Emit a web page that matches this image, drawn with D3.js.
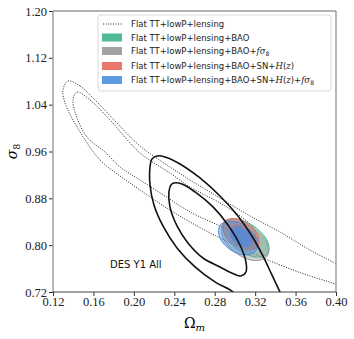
<!DOCTYPE html>
<html>
<head>
<meta charset="utf-8">
<script src="https://cdn.jsdelivr.net/npm/d3@7.9.0/dist/d3.min.js"></script>
<style>
  body { margin: 0; background: #fff; }
  svg { display: block; }
</style>
</head>
<body>
<svg id="chart"></svg>
<script>
// tick values
const xTicks = [0.12, 0.16, 0.20, 0.24, 0.28, 0.32, 0.36, 0.40];
const yTicks = [0.72, 0.80, 0.88, 0.96, 1.04, 1.12, 1.20];

// Planck TT+lowP+lensing (dotted), points [Om, s8]
const planckOuter = [
    [0.1349, 1.0805], [0.1467, 1.0719], [0.1616, 1.0480], [0.1833, 1.0087], [0.2061, 0.9694],
    [0.2357, 0.9336], [0.2555, 0.9114], [0.2852, 0.8806], [0.3149, 0.8499], [0.3445, 0.8225],
    [0.3742, 0.7918], [0.3989, 0.7696], [0.4335, 0.7406], [0.4335, 0.7064], [0.3989, 0.7337],
    [0.3742, 0.7474], [0.3445, 0.7662], [0.3149, 0.7884], [0.2852, 0.8123], [0.2555, 0.8396],
    [0.2308, 0.8653], [0.2061, 0.8943], [0.1863, 0.9182], [0.1665, 0.9455], [0.1438, 1.0019],
    [0.1319, 1.0429], [0.1299, 1.0651]
];
const planckInner = [
    [0.1438, 1.0617], [0.1566, 1.0480], [0.1764, 1.0138], [0.2061, 0.9575], [0.2357, 0.9233],
    [0.2555, 0.8994], [0.2852, 0.8721], [0.3050, 0.8500], [0.3180, 0.8300], [0.3200, 0.8180],
    [0.3110, 0.8140], [0.2950, 0.8250], [0.2852, 0.8328], [0.2555, 0.8567],
    [0.2308, 0.8840], [0.2061, 0.9114], [0.1863, 0.9336], [0.1714, 0.9592], [0.1536, 0.9848],
    [0.1428, 1.0224], [0.1398, 1.0480]
];

// DES Y1 All (solid black)
const desOuter = [
    [0.2229, 0.9524], [0.2308, 0.9507], [0.2456, 0.9387], [0.2654, 0.9148], [0.2852, 0.8840],
    [0.3030, 0.8499], [0.3168, 0.8157], [0.3277, 0.7816], [0.3366, 0.7491], [0.3445, 0.7201],
    [0.3524, 0.6881], [0.3297, 0.6757], [0.3099, 0.6966], [0.2980, 0.7201], [0.2802, 0.7372],
    [0.2605, 0.7628], [0.2427, 0.7952], [0.2288, 0.8328], [0.2199, 0.8687], [0.2160, 0.9028],
    [0.2160, 0.9336], [0.2179, 0.9472]
];
const desInner = [
    [0.2397, 0.9062], [0.2476, 0.9045], [0.2605, 0.8909], [0.2783, 0.8653], [0.2931, 0.8345],
    [0.3050, 0.8003], [0.3109, 0.7713], [0.3109, 0.7542], [0.3059, 0.7474], [0.2990, 0.7508],
    [0.2852, 0.7628], [0.2684, 0.7781], [0.2535, 0.8038], [0.2427, 0.8328], [0.2357, 0.8653],
    [0.2347, 0.8909], [0.2367, 0.9028]
];

// filled combinations: 2 sigma and 1 sigma
const baoOuter = [[0.3328, 0.7858], [0.3207, 0.7797], [0.3030, 0.7927], [0.2898, 0.8172], [0.2890, 0.8388], [0.3011, 0.8449], [0.3189, 0.8319], [0.3320, 0.8074]];
const baoInner = [[0.3221, 0.7993], [0.3153, 0.7957], [0.3054, 0.8028], [0.2981, 0.8165], [0.2978, 0.8287], [0.3045, 0.8323], [0.3144, 0.8252], [0.3217, 0.8115]];
const fs8Outer = [[0.3318, 0.7807], [0.3193, 0.7737], [0.3014, 0.7862], [0.2884, 0.8111], [0.2880, 0.8337], [0.3005, 0.8408], [0.3184, 0.8282], [0.3314, 0.8033]];
const fs8Inner = [[0.3211, 0.7959], [0.3143, 0.7923], [0.3044, 0.7994], [0.2971, 0.8131], [0.2968, 0.8253], [0.3035, 0.8289], [0.3134, 0.8218], [0.3207, 0.8081]];
const snOuter = [[0.3230, 0.7985], [0.3132, 0.7927], [0.2992, 0.8023], [0.2892, 0.8218], [0.2890, 0.8397], [0.2988, 0.8455], [0.3128, 0.8359], [0.3228, 0.8164]];
const snInner = [[0.3157, 0.8073], [0.3101, 0.8039], [0.3020, 0.8093], [0.2963, 0.8205], [0.2963, 0.8309], [0.3019, 0.8343], [0.3100, 0.8289], [0.3157, 0.8177]];
const allOuter = [[0.3208, 0.7907], [0.3100, 0.7832], [0.2951, 0.7927], [0.2848, 0.8137], [0.2852, 0.8339], [0.2960, 0.8414], [0.3110, 0.8319], [0.3212, 0.8109]];
const allInner = [[0.3157, 0.8022], [0.3097, 0.7978], [0.3015, 0.8028], [0.2959, 0.8144], [0.2963, 0.8258], [0.3023, 0.8302], [0.3105, 0.8252], [0.3161, 0.8136]];

const filled = [
    { outer: baoOuter, inner: baoInner, color: "#3db389" },
    { outer: fs8Outer, inner: fs8Inner, color: "#999999" },
    { outer: snOuter, inner: snInner, color: "#e8685b" },
    { outer: allOuter, inner: allInner, color: "#4a8de0" }
];

const W = 354, H = 339;
const svg = d3.select("#chart").attr("width", W).attr("height", H);

const x = d3.scaleLinear().domain([0.12, 0.40]).range([53, 336]);
const y = d3.scaleLinear().domain([0.72, 1.20]).range([292, 11]);

svg.append("defs").append("clipPath").attr("id", "clip")
    .append("rect")
    .attr("x", x(0.12)).attr("y", y(1.20))
    .attr("width", x(0.40) - x(0.12)).attr("height", y(0.72) - y(1.20));

const line = d3.line()
    .x(d => x(d[0]))
    .y(d => y(d[1]))
    .curve(d3.curveCatmullRomClosed.alpha(0.5));

const plot = svg.append("g").attr("clip-path", "url(#clip)");

// planck dotted
[planckOuter, planckInner].forEach(c => {
    plot.append("path")
        .attr("d", line(c))
        .attr("fill", "none")
        .attr("stroke", "#222")
        .attr("stroke-width", 1)
        .attr("stroke-dasharray", "1,1.5");
});

// filled contours
filled.forEach(f => {
    plot.append("path")
        .attr("d", line(f.outer))
        .attr("fill", f.color)
        .attr("fill-opacity", 0.45)
        .attr("stroke", f.color)
        .attr("stroke-width", 1);
    plot.append("path")
        .attr("d", line(f.inner))
        .attr("fill", f.color)
        .attr("fill-opacity", 0.75)
        .attr("stroke", f.color)
        .attr("stroke-width", 0.8);
});

// DES solid
[desOuter, desInner].forEach(c => {
    plot.append("path")
        .attr("d", line(c))
        .attr("fill", "none")
        .attr("stroke", "#111")
        .attr("stroke-width", 1.6);
});

// axes
const xAxis = svg.append("g")
    .attr("transform", `translate(0,${y(0.72)})`)
    .call(d3.axisBottom(x).tickValues(xTicks).tickFormat(d3.format(".2f")).tickSize(4).tickPadding(1));
const yAxis = svg.append("g")
    .attr("transform", `translate(${x(0.12)},0)`)
    .call(d3.axisLeft(y).tickValues(yTicks).tickFormat(d3.format(".2f")).tickSize(4).tickPadding(2));

[xAxis, yAxis].forEach(a => {
    a.select(".domain").remove();
    a.selectAll(".tick line").attr("stroke", "#333");
    a.selectAll("text")
        .attr("fill", "#222")
        .style("font-family", "'Liberation Serif', serif")
        .style("font-size", "12.5px");
});

// spines
const frame = svg.append("g");
frame.append("line").attr("x1", x(0.12)).attr("x2", x(0.12)).attr("y1", y(0.72)).attr("y2", y(1.20)).attr("stroke", "#999").attr("stroke-width", 1.4);
frame.append("line").attr("x1", x(0.40)).attr("x2", x(0.40)).attr("y1", y(0.72)).attr("y2", y(1.20)).attr("stroke", "#999").attr("stroke-width", 1.4);
frame.append("line").attr("x1", x(0.12)).attr("x2", x(0.40)).attr("y1", y(1.20)).attr("y2", y(1.20)).attr("stroke", "#999").attr("stroke-width", 1.4);
frame.append("line").attr("x1", x(0.12)).attr("x2", x(0.40)).attr("y1", y(0.72)).attr("y2", y(0.72)).attr("stroke", "#444").attr("stroke-width", 1.2);

// axis labels
const xl = svg.append("text")
    .attr("x", (x(0.12) + x(0.40)) / 2)
    .attr("y", 328)
    .attr("text-anchor", "middle")
    .style("font-family", "'DejaVu Serif', serif")
    .style("font-size", "14px");
xl.append("tspan").text("Ω");
xl.append("tspan").attr("font-style", "italic").attr("font-size", "10px").attr("dy", 3).text("m");

const yl = svg.append("text")
    .attr("transform", `translate(17,${(y(0.72) + y(1.20)) / 2}) rotate(-90)`)
    .attr("text-anchor", "middle")
    .style("font-family", "'DejaVu Serif', serif")
    .style("font-size", "14px");
yl.append("tspan").attr("font-style", "italic").text("σ");
yl.append("tspan").attr("font-size", "9px").attr("dy", 3).text("8");

// DES label
svg.append("text")
    .attr("x", 110)
    .attr("y", 268)
    .style("font-family", "'DejaVu Sans', sans-serif")
    .style("font-size", "10px")
    .attr("fill", "#111")
    .text("DES Y1 All");

// legend
const legend = svg.append("g");
legend.append("rect")
    .attr("x", 98).attr("y", 15)
    .attr("width", 233).attr("height", 76)
    .attr("rx", 3)
    .attr("fill", "#fff").attr("fill-opacity", 0.85)
    .attr("stroke", "#d0d0d0").attr("stroke-width", 0.8);

const rows = [
    { kind: "line", parts: [["Flat TT+lowP+lensing", false]] },
    { kind: "fill", color: "#3db389", parts: [["Flat TT+lowP+lensing+BAO", false]] },
    { kind: "fill", color: "#999999", parts: [["Flat TT+lowP+lensing+BAO+", false], ["fσ", true], ["8", "sub"]] },
    { kind: "fill", color: "#e8685b", parts: [["Flat TT+lowP+lensing+BAO+SN+", false], ["H", true], ["(", false], ["z", true], [")", false]] },
    { kind: "fill", color: "#4a8de0", parts: [["Flat TT+lowP+lensing+BAO+SN+", false], ["H", true], ["(", false], ["z", true], [")+", false], ["fσ", true], ["8", "sub"]] }
];
const rowY = [24, 37.5, 51, 66, 80];

rows.forEach((r, i) => {
    const cy = rowY[i];
    if (r.kind === "line") {
        legend.append("line")
            .attr("x1", 103).attr("x2", 122).attr("y1", cy).attr("y2", cy)
            .attr("stroke", "#222").attr("stroke-width", 1).attr("stroke-dasharray", "1,1.5");
    } else {
        legend.append("rect")
            .attr("x", 102).attr("y", cy - 4).attr("width", 20).attr("height", 8)
            .attr("fill", r.color).attr("fill-opacity", 0.9);
    }
    const t = legend.append("text")
        .attr("x", 131).attr("y", cy + 3)
        .style("font-family", "'DejaVu Sans', sans-serif")
        .style("font-size", "8.5px")
        .attr("fill", "#222");
    let shifted = false;
    r.parts.forEach(p => {
        const s = t.append("tspan").text(p[0]);
        if (shifted) { s.attr("dy", -2); shifted = false; }
        if (p[1] === true) s.style("font-family", "'DejaVu Serif', serif").attr("font-style", "italic");
        if (p[1] === "sub") { s.attr("font-size", "6px").attr("dy", 2); shifted = true; }
    });
});
</script>
</body>
</html>
